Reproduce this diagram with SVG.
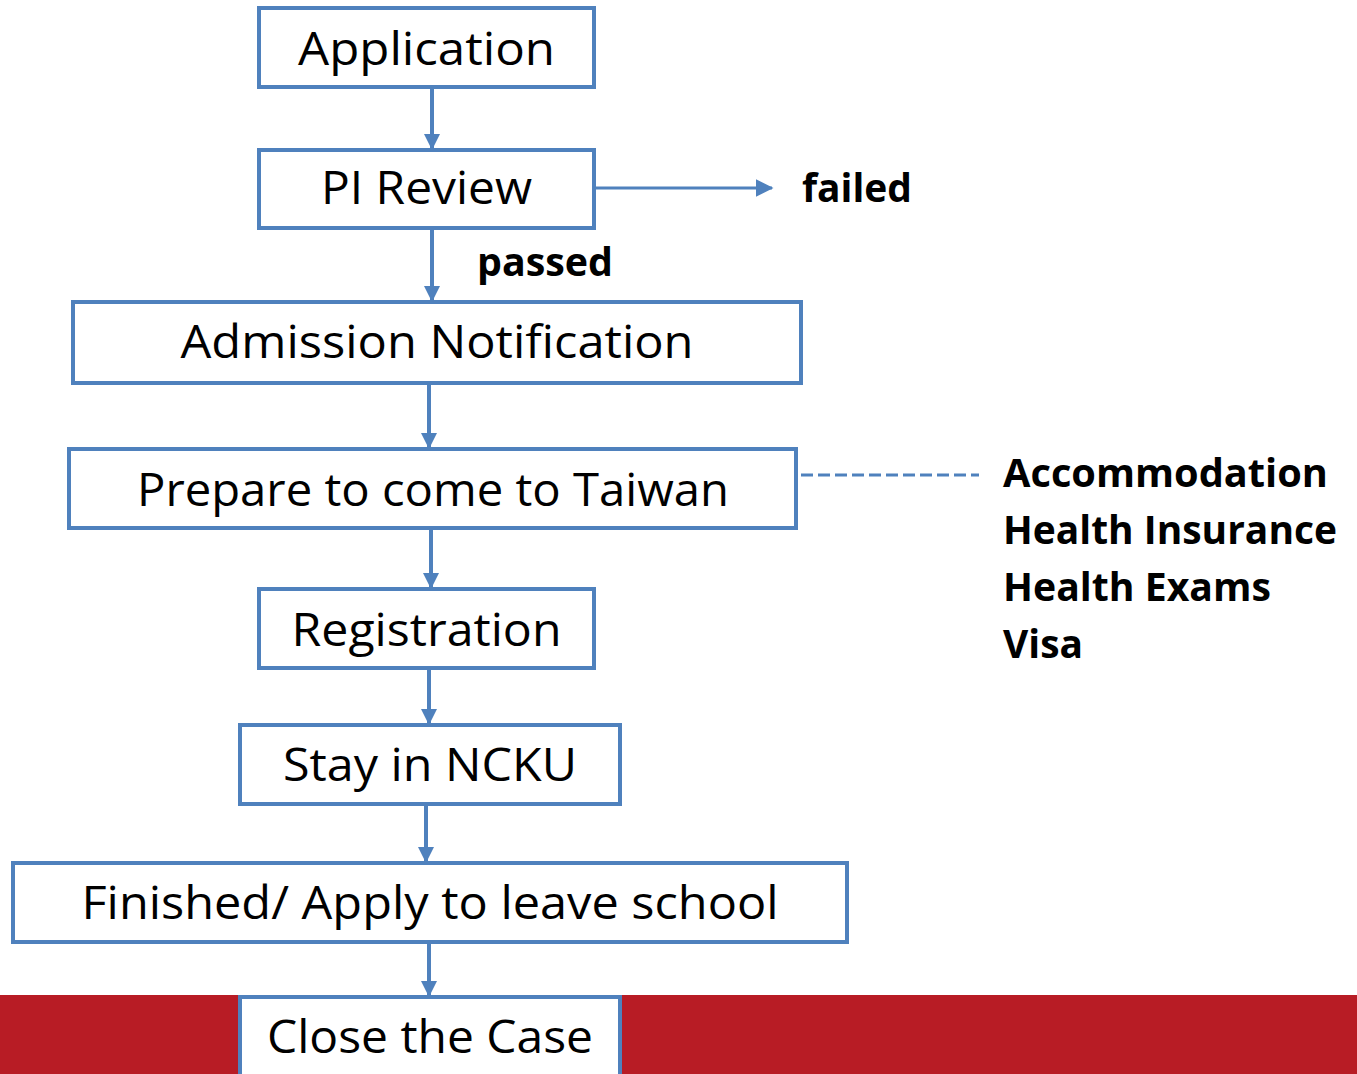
<svg xmlns="http://www.w3.org/2000/svg" width="1357" height="1074" viewBox="0 0 1357 1074">
<style>
.box{fill:#fff;stroke:#4F81BD;stroke-width:4}
.t{font-family:"Open Sans","Noto Sans",sans-serif;font-size:46px;fill:#000;text-anchor:middle}
.b{font-family:"Open Sans","Noto Sans",sans-serif;font-size:39px;font-weight:bold;fill:#000}
.c{stroke:#4F81BD;stroke-width:4;fill:none}
</style>
<defs>
<marker id="ah" markerWidth="4" markerHeight="4" refX="3.5" refY="2" orient="auto" markerUnits="strokeWidth">
<path d="M0,0 L4,2 L0,4 Z" fill="#4F81BD"/>
</marker>
<marker id="ah2" markerWidth="6" markerHeight="6" refX="5.5" refY="3" orient="auto" markerUnits="strokeWidth">
<path d="M0,0 L6,3 L0,6 Z" fill="#4F81BD"/>
</marker>
</defs>
<rect x="0" y="995" width="1357" height="79" fill="#B81C25"/>
<g id="connectors">
<line class="c" x1="432" y1="89" x2="432" y2="148" marker-end="url(#ah)"/>
<line class="c" x1="432" y1="230" x2="432" y2="300" marker-end="url(#ah)"/>
<line class="c" x1="429" y1="385" x2="429" y2="447" marker-end="url(#ah)"/>
<line class="c" x1="431" y1="530" x2="431" y2="587" marker-end="url(#ah)"/>
<line class="c" x1="429" y1="670" x2="429" y2="723" marker-end="url(#ah)"/>
<line class="c" x1="426" y1="806" x2="426" y2="861" marker-end="url(#ah)"/>
<line class="c" x1="429" y1="944" x2="429" y2="995" marker-end="url(#ah)"/>
<line x1="596" y1="188" x2="772" y2="188" stroke="#4F81BD" stroke-width="3" marker-end="url(#ah2)"/>
<line x1="801" y1="475" x2="979" y2="475" stroke="#4F81BD" stroke-width="3" stroke-dasharray="12,5"/>
<text class="b" x="477" y="276" textLength="136" lengthAdjust="spacingAndGlyphs">passed</text>
<text class="b" x="802" y="202" textLength="110" lengthAdjust="spacingAndGlyphs">failed</text>
</g>
<g id="application"><rect class="box" x="259" y="8" width="335" height="79"/><text class="t" x="426.5" y="65" textLength="257" lengthAdjust="spacingAndGlyphs">Application</text></g>
<g id="pi-review"><rect class="box" x="259" y="150" width="335" height="78"/><text class="t" x="426.5" y="204" textLength="211" lengthAdjust="spacingAndGlyphs">PI Review</text></g>
<g id="admission"><rect class="box" x="73" y="302" width="728" height="81"/><text class="t" x="437" y="358" textLength="513" lengthAdjust="spacingAndGlyphs">Admission Notification</text></g>
<g id="prepare"><rect class="box" x="69" y="449" width="727" height="79"/><text class="t" x="433" y="506" textLength="592" lengthAdjust="spacingAndGlyphs">Prepare to come to Taiwan</text></g>
<g id="registration"><rect class="box" x="259" y="589" width="335" height="79"/><text class="t" x="426.5" y="646" textLength="270" lengthAdjust="spacingAndGlyphs">Registration</text></g>
<g id="stay"><rect class="box" x="240" y="725" width="380" height="79"/><text class="t" x="430" y="781" textLength="294" lengthAdjust="spacingAndGlyphs">Stay in NCKU</text></g>
<g id="finished"><rect class="box" x="13" y="863" width="834" height="79"/><text class="t" x="430" y="919" textLength="697" lengthAdjust="spacingAndGlyphs">Finished/ Apply to leave school</text></g>
<g id="close"><rect class="box" x="240" y="997" width="380" height="85"/><text class="t" x="430" y="1053" textLength="326" lengthAdjust="spacingAndGlyphs">Close the Case</text></g>
<g id="prepare-notes">
<text class="b" x="1003" y="487" textLength="325" lengthAdjust="spacingAndGlyphs">Accommodation</text>
<text class="b" x="1003" y="544" textLength="334" lengthAdjust="spacingAndGlyphs">Health Insurance</text>
<text class="b" x="1003" y="601" textLength="268" lengthAdjust="spacingAndGlyphs">Health Exams</text>
<text class="b" x="1003" y="658" textLength="80" lengthAdjust="spacingAndGlyphs">Visa</text>
</g>
</svg>
